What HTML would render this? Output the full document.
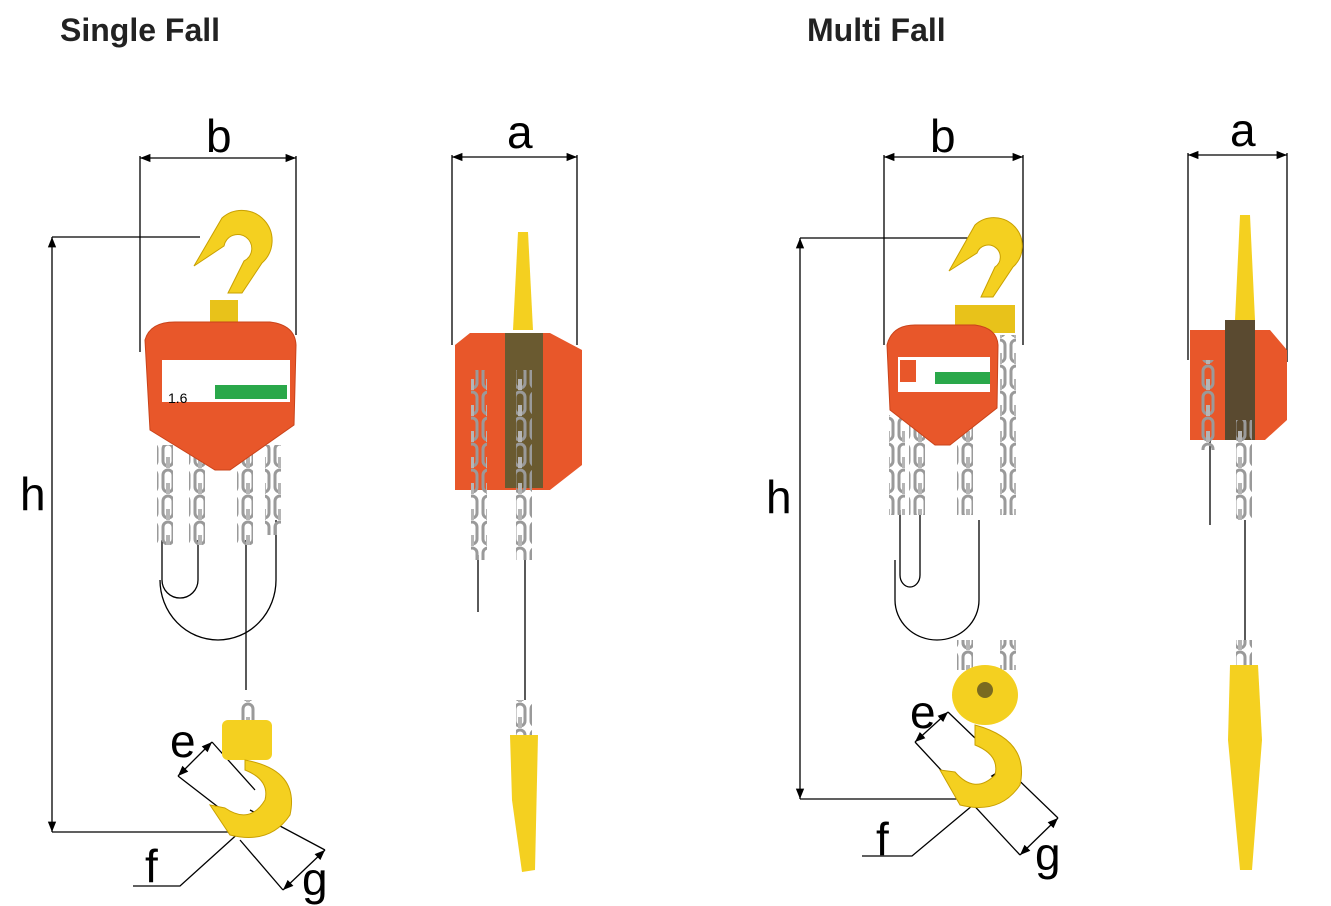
<!DOCTYPE html>
<html><head><meta charset="utf-8"><style>
body{margin:0;background:#fff;width:1331px;height:906px;overflow:hidden}
svg{display:block}
text{font-family:"Liberation Sans",Arial,sans-serif}
</style></head><body>
<svg width="1331" height="906" viewBox="0 0 1331 906">
<defs>
<marker id="ar" viewBox="0 0 10 10" refX="10" refY="5" markerWidth="8" markerHeight="8" orient="auto-start-reverse"><path d="M0,1 L10,5 L0,9 z" fill="#000"/></marker>
<pattern id="ch" width="16" height="26" patternUnits="userSpaceOnUse"><rect x="3" y="2" width="10" height="22" rx="5" fill="none" stroke="#9a9a9a" stroke-width="3"/><rect x="6" y="15" width="4" height="22" fill="#b5b5b5"/></pattern>
</defs>
<text x="60" y="41" font-size="32" font-weight="bold" fill="#222">Single Fall</text>
<text x="807" y="41" font-size="32" font-weight="bold" fill="#222">Multi Fall</text>

<g stroke="#000" stroke-width="1.3" fill="none">
<line x1="140" y1="158" x2="296" y2="158" marker-start="url(#ar)" marker-end="url(#ar)"/>
<line x1="140" y1="156" x2="140" y2="352"/><line x1="296" y1="156" x2="296" y2="335"/>
<line x1="452" y1="157" x2="577" y2="157" marker-start="url(#ar)" marker-end="url(#ar)"/>
<line x1="452" y1="155" x2="452" y2="345"/><line x1="577" y1="155" x2="577" y2="345"/>
<line x1="52" y1="237" x2="52" y2="832" marker-start="url(#ar)" marker-end="url(#ar)"/>
<line x1="52" y1="237" x2="200" y2="237"/><line x1="52" y1="832" x2="250" y2="832"/>
<line x1="178" y1="776" x2="212" y2="742" marker-start="url(#ar)" marker-end="url(#ar)"/>
<line x1="212" y1="742" x2="255" y2="790"/><line x1="178" y1="776" x2="222" y2="810"/>
<line x1="283" y1="890" x2="325" y2="850" marker-start="url(#ar)" marker-end="url(#ar)"/>
<line x1="250" y1="810" x2="325" y2="850"/><line x1="240" y1="840" x2="283" y2="890"/>
<line x1="240" y1="833" x2="272" y2="800" marker-end="url(#ar)"/>
<polyline points="133,886 180,886 242,830"/>
<line x1="884" y1="157" x2="1023" y2="157" marker-start="url(#ar)" marker-end="url(#ar)"/>
<line x1="884" y1="155" x2="884" y2="345"/><line x1="1023" y1="155" x2="1023" y2="345"/>
<line x1="1188" y1="155" x2="1287" y2="155" marker-start="url(#ar)" marker-end="url(#ar)"/>
<line x1="1188" y1="153" x2="1188" y2="360"/><line x1="1287" y1="153" x2="1287" y2="362"/>
<line x1="800" y1="238" x2="800" y2="799" marker-start="url(#ar)" marker-end="url(#ar)"/>
<line x1="800" y1="238" x2="975" y2="238"/><line x1="800" y1="799" x2="990" y2="799"/>
<line x1="915" y1="742" x2="948" y2="712" marker-start="url(#ar)" marker-end="url(#ar)"/>
<line x1="948" y1="712" x2="1058" y2="818"/><line x1="915" y1="742" x2="1020" y2="855"/>
<line x1="1020" y1="855" x2="1058" y2="818" marker-start="url(#ar)" marker-end="url(#ar)"/>
<line x1="975" y1="805" x2="1000" y2="770" marker-end="url(#ar)"/>
<polyline points="862,856 912,856 985,795"/>
<path d="M162,540 V580 a18,18 0 0 0 36,0 V540"/>
<path d="M160,580 a58,60 0 0 0 116,0 V520"/>
<line x1="246" y1="540" x2="246" y2="690"/>
<line x1="478" y1="555" x2="478" y2="612"/>
<line x1="525" y1="555" x2="525" y2="700"/>
<path d="M900,510 V575 a10,12 0 0 0 20,0 V510"/>
<path d="M895,560 V600 a42,40 0 0 0 84,0 V520"/>
<line x1="1210" y1="440" x2="1210" y2="525"/>
<line x1="1245" y1="520" x2="1245" y2="640"/>
</g>
<g font-size="46" fill="#000">
<text x="206" y="152">b</text><text x="507" y="148">a</text><text x="20" y="510">h</text>
<text x="170" y="757">e</text><text x="145" y="882">f</text><text x="302" y="895">g</text>
<text x="930" y="152">b</text><text x="1230" y="146">a</text><text x="766" y="513">h</text>
<text x="910" y="728">e</text><text x="876" y="855">f</text><text x="1035" y="870">g</text>
</g>

<path d="M222,218 a30,30 0 1 1 40,45 l-20,30 l-14,0 l16,-32 a14,14 0 1 0 -20,-15 l-30,20 z" fill="#f4d020" stroke="#c9a000"/>
<rect x="210" y="300" width="28" height="24" fill="#e8c21a"/>
<rect x="157" y="445" width="16" height="100" fill="url(#ch)"/>
<rect x="189" y="445" width="16" height="100" fill="url(#ch)"/>
<rect x="237" y="445" width="16" height="100" fill="url(#ch)"/>
<rect x="265" y="445" width="16" height="90" fill="url(#ch)"/>
<path d="M145,340 Q150,322 175,322 L270,322 Q295,325 296,345 L294,425 L230,470 L215,470 L150,430 Z" fill="#e8572a" stroke="#c9431a"/>
<rect x="162" y="360" width="128" height="42" fill="#fff"/><rect x="215" y="385" width="72" height="14" fill="#2aa84a"/>
<text x="168" y="403" font-size="14">1.6</text>
<rect x="240" y="700" width="16" height="32" fill="url(#ch)"/>
<rect x="222" y="720" width="50" height="40" rx="6" fill="#f4d020"/>
<path d="M245,760 Q300,770 290,815 Q270,845 230,835 L210,805 L225,808 Q250,825 265,800 Q270,780 245,770 Z" fill="#f4d020" stroke="#c9a000"/>

<path d="M518,232 L528,232 L533,330 L513,330 Z" fill="#f4d020"/>
<path d="M455,345 L470,333 L550,333 L582,350 L582,465 L550,490 L455,490 Z" fill="#e8572a"/>
<rect x="505" y="333" width="38" height="155" fill="#6a5a30"/>
<rect x="471" y="370" width="16" height="190" fill="url(#ch)"/>
<rect x="516" y="370" width="16" height="190" fill="url(#ch)"/>
<rect x="516" y="700" width="16" height="40" fill="url(#ch)"/>
<path d="M510,735 L538,735 L535,870 L522,872 L512,800 Z" fill="#f4d020"/>

<path d="M975,225 a28,28 0 1 1 38,42 l-20,30 l-12,0 l14,-30 a12,12 0 1 0 -18,-14 l-28,18 z" fill="#f4d020" stroke="#c9a000"/>
<rect x="955" y="305" width="60" height="28" fill="#e8c21a"/>
<rect x="889" y="415" width="16" height="100" fill="url(#ch)"/>
<rect x="909" y="415" width="16" height="100" fill="url(#ch)"/>
<rect x="957" y="415" width="16" height="100" fill="url(#ch)"/>
<rect x="1000" y="335" width="16" height="180" fill="url(#ch)"/>
<rect x="957" y="640" width="16" height="30" fill="url(#ch)"/>
<rect x="1000" y="640" width="16" height="30" fill="url(#ch)"/>
<path d="M887,345 Q892,325 915,325 L975,325 Q997,328 998,345 L997,408 L950,445 L935,445 L890,410 Z" fill="#e8572a" stroke="#c9431a"/>
<rect x="898" y="357" width="92" height="35" fill="#fff"/><rect x="935" y="372" width="55" height="12" fill="#2aa84a"/>
<rect x="900" y="360" width="16" height="22" fill="#e8572a"/>
<ellipse cx="985" cy="695" rx="33" ry="30" fill="#f4d020"/>
<circle cx="985" cy="690" r="8" fill="#7a6a20"/>
<path d="M975,725 Q1030,740 1020,785 Q1000,815 960,805 L940,770 L955,772 Q975,795 995,775 Q1000,755 975,745 Z" fill="#f4d020" stroke="#c9a000"/>

<path d="M1240,215 L1250,215 L1255,320 L1235,320 Z" fill="#f4d020"/>
<path d="M1190,330 L1270,330 L1287,350 L1287,420 L1265,440 L1190,440 Z" fill="#e8572a"/>
<rect x="1225" y="320" width="30" height="120" fill="#5a4a30"/>
<rect x="1200" y="360" width="16" height="90" fill="url(#ch)"/>
<rect x="1236" y="420" width="16" height="100" fill="url(#ch)"/>
<rect x="1236" y="640" width="16" height="30" fill="url(#ch)"/>
<path d="M1230,665 L1258,665 L1262,740 L1252,870 L1240,870 L1228,740 Z" fill="#f4d020"/>
</svg>
</body></html>
